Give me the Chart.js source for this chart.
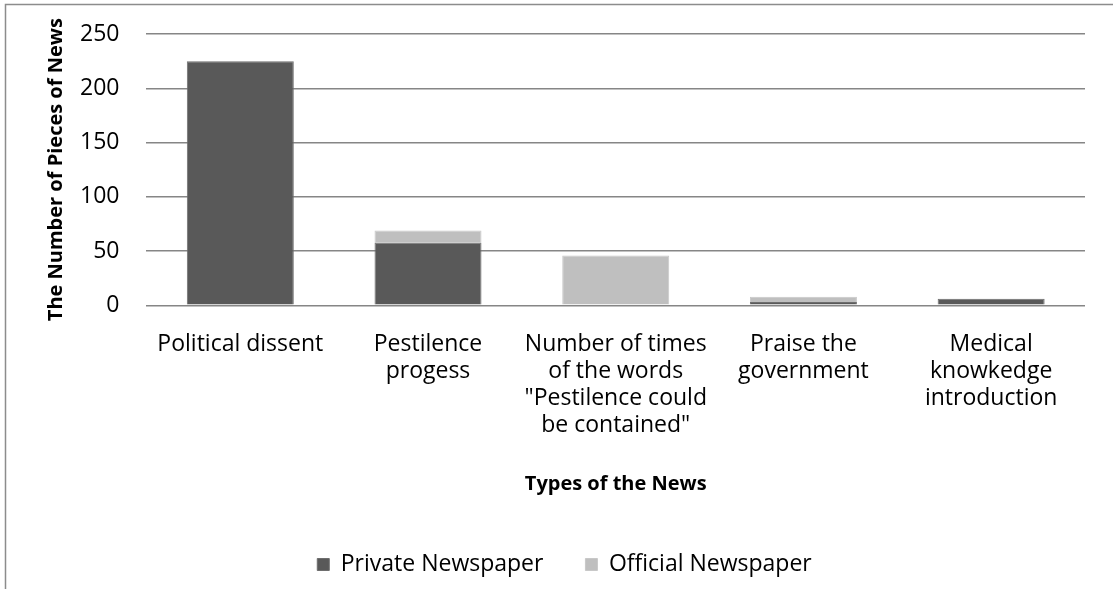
<!DOCTYPE html>
<html lang="en">
<head>
    <meta charset="UTF-8">
    <script src="https://cdn.jsdelivr.net/npm/chart.js"></script>
    <title>Types of the News</title>
    <style>
        body {
            margin: 0;
            padding: 0;
            background-color: #fff;
        }

        .grafico {
            position: relative;
            width: 1113px;
            height: 589px;
        }
    </style>
</head>
<body>
    <div class="grafico">
        <canvas id="noticias"></canvas>
    </div>

    <script>
        // Dados
        const categorias = [
            'Political dissent',
            ['Pestilence', 'progess'],
            ['Number of times', 'of the words', '"Pestilence could', 'be contained"'],
            ['Praise the', 'government'],
            ['Medical', 'knowkedge', 'introduction']
        ];
        const privado = [225, 58, 1, 3, 6];
        const oficial = [0, 11, 45, 5, 0];
        const nomesSeries = ['Private Newspaper', 'Official Newspaper'];
        const tituloX = 'Types of the News';
        const tituloY = 'The Number of Pieces of News';

        const fonte = "'Open Sans', sans-serif";

        // moldura do gráfico (só borda de cima e da esquerda aparecem)
        const moldura = {
            id: 'moldura',
            afterDraw(chart) {
                const ctx = chart.ctx;
                ctx.save();
                ctx.strokeStyle = '#8c8c8c';
                ctx.lineWidth = 1.5;
                ctx.beginPath();
                ctx.moveTo(5.5, 589);
                ctx.lineTo(5.5, 4.5);
                ctx.lineTo(1113, 4.5);
                ctx.stroke();
                ctx.restore();
            }
        };

        const ctx = document.getElementById('noticias').getContext('2d');
        new Chart(ctx, {
            type: 'bar',
            data: {
                labels: categorias,
                datasets: [
                    {
                        label: nomesSeries[0],
                        data: privado,
                        backgroundColor: '#595959',
                        borderColor: '#6e6e6e',
                        borderWidth: 1,
                        categoryPercentage: 1,
                        barPercentage: 0.57
                    },
                    {
                        label: nomesSeries[1],
                        data: oficial,
                        backgroundColor: '#bfbfbf',
                        borderColor: '#c8c8c8',
                        borderWidth: 1,
                        categoryPercentage: 1,
                        barPercentage: 0.57
                    }
                ]
            },
            options: {
                responsive: true,
                maintainAspectRatio: false,
                animation: false,
                layout: {
                    autoPadding: false,
                    padding: { top: 34, right: 28, bottom: 3, left: 44 }
                },
                plugins: {
                    legend: {
                        position: 'bottom',
                        labels: {
                            boxWidth: 12,
                            boxHeight: 12,
                            padding: 42,
                            color: '#000',
                            font: { family: fonte, size: 23 }
                        }
                    },
                    tooltip: { enabled: false }
                },
                scales: {
                    x: {
                        stacked: true,
                        grid: { display: false },
                        border: { display: false },
                        afterFit(escala) {
                            escala.paddingLeft = 0;
                            escala.paddingRight = 0;
                        },
                        ticks: {
                            color: '#000',
                            maxRotation: 0,
                            autoSkip: false,
                            padding: 18,
                            font: { family: fonte, size: 23, lineHeight: 1.17 }
                        },
                        title: {
                            display: true,
                            text: tituloX,
                            color: '#000',
                            padding: { top: 15, bottom: 15 },
                            font: { family: fonte, size: 20, weight: 'bold' }
                        }
                    },
                    y: {
                        stacked: true,
                        min: 0,
                        max: 250,
                        // sem isso o Chart.js empurra o topo do gráfico para baixo
                        afterFit(escala) {
                            escala.paddingTop = 0;
                            escala.paddingBottom = 0;
                        },
                        ticks: {
                            stepSize: 50,
                            color: '#000',
                            padding: 27,
                            font: { family: fonte, size: 23 }
                        },
                        grid: {
                            color: '#868686',
                            lineWidth: 1.5,
                            drawTicks: false
                        },
                        border: { display: false },
                        title: {
                            display: true,
                            text: tituloY,
                            color: '#000',
                            padding: { top: 0, bottom: -15 },
                            font: { family: fonte, size: 20, weight: 'bold' }
                        }
                    }
                }
            },
            plugins: [moldura]
        });
    </script>
</body>
</html>
